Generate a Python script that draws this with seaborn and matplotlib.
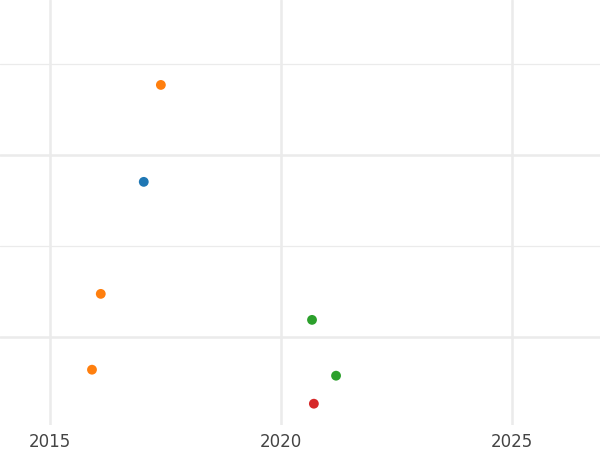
import pandas as pd
import matplotlib.pyplot as plt
from matplotlib.ticker import MultipleLocator
import seaborn as sns

# values
years = [2017.40, 2017.03, 2016.10, 2020.67, 2015.91, 2021.19, 2020.71]
values = [23.85, 18.52, 12.36, 10.93, 8.19, 7.86, 6.32]
groups = ['B', 'A', 'B', 'C', 'B', 'C', 'D']

df = pd.DataFrame({'year': years, 'value': values, 'group': groups})

sns.set_style('white')
fig = plt.figure(figsize=(6, 4.5), dpi=100)
ax = fig.add_axes([0, 0.056, 1, 0.944])

sns.scatterplot(data=df, x='year', y='value', hue='group',
                hue_order=['A', 'B', 'C', 'D'], palette='tab10',
                s=50, edgecolor='none', legend=False, ax=ax, zorder=3)

ax.set_xlim(2013.92, 2026.9)
ax.set_ylim(5.16, 28.52)
ax.xaxis.set_major_locator(MultipleLocator(5))
ax.yaxis.set_major_locator(MultipleLocator(10))
ax.yaxis.set_minor_locator(MultipleLocator(5))
ax.grid(which='major', color='#ebebeb', linewidth=1.8)
ax.grid(which='minor', axis='y', color='#ebebeb', linewidth=0.9)
ax.set_axisbelow(True)
ax.tick_params(axis='x', length=0, labelsize=12, labelcolor='#444444', pad=6)
ax.tick_params(axis='y', which='both', length=0, labelleft=False)
ax.set_xlabel('')
ax.set_ylabel('')
sns.despine(ax=ax, left=True, bottom=True)

fig.savefig('out.png', dpi=100)
